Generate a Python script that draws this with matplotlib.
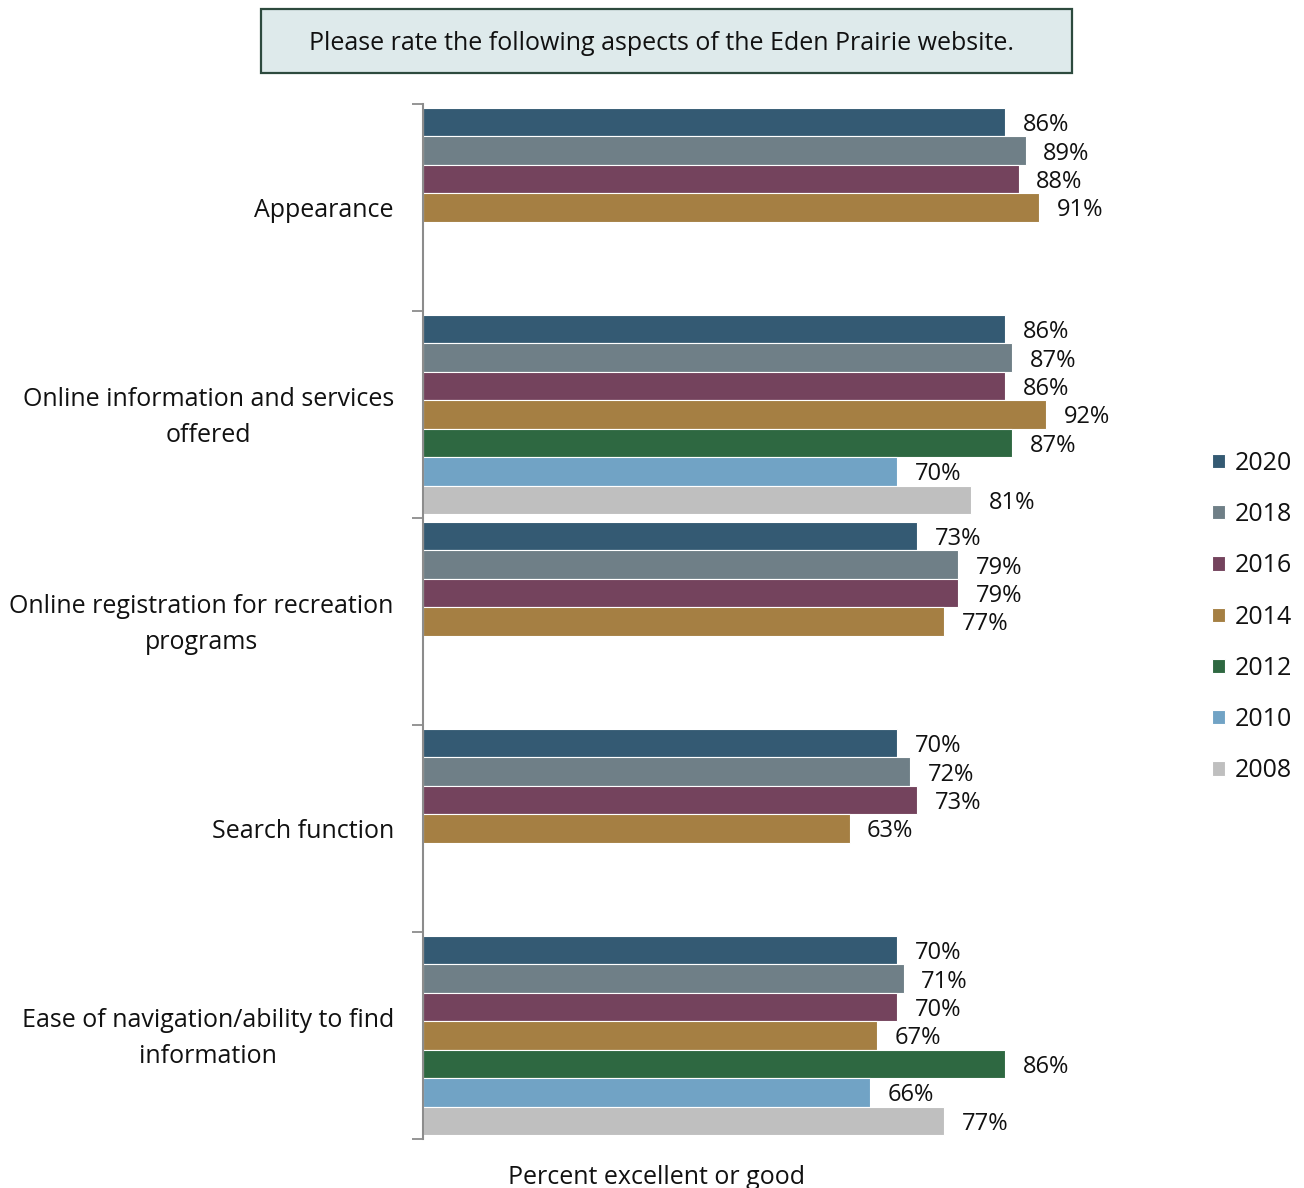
import numpy as np
import matplotlib

matplotlib.use("Agg")

import matplotlib.pyplot as plt
from matplotlib.patches import Rectangle

plt.rcParams["font.family"] = ["Open Sans", "DejaVu Sans"]

CATEGORIES = [
    "Appearance",
    "Online information and services\noffered",
    "Online registration for recreation\nprograms",
    "Search function",
    "Ease of navigation/ability to find\ninformation",
]
YEARS = ["2020", "2018", "2016", "2014", "2012", "2010", "2008"]

nan = np.nan
PCT_2020 = [86, 86, 73, 70, 70]
PCT_2018 = [89, 87, 79, 72, 71]
PCT_2016 = [88, 86, 79, 73, 70]
PCT_2014 = [91, 92, 77, 63, 67]
PCT_2012 = [nan, 87, nan, nan, 86]
PCT_2010 = [nan, 70, nan, nan, 66]
PCT_2008 = [nan, 81, nan, nan, 77]
SERIES = [PCT_2020, PCT_2018, PCT_2016, PCT_2014, PCT_2012, PCT_2010, PCT_2008]

COLORS = ["#345a73", "#6f7f87", "#74435d", "#a57f43", "#2e6841", "#71a3c5", "#bfbfbf"]

TITLE = "Please rate the following aspects of the Eden Prairie website."
XLABEL = "Percent excellent or good"

W, H = 1304, 1188
fig = plt.figure(figsize=(W / 100, H / 100), dpi=100)

# plot area in pixel terms: y axis at x=423, category band from y=104 to y=1139
ax = fig.add_axes([423 / W, (H - 1139) / H, 677 / W, (1139 - 104) / H])

n_cat = len(CATEGORIES)
n_ser = len(SERIES)
gap = 0.28
bar_h = 1.0 / (n_ser + gap)
offset = gap * bar_h / 2

for j, (vals, year, color) in enumerate(zip(SERIES, YEARS, COLORS)):
    vals = np.asarray(vals, dtype=float)
    y = np.arange(n_cat) + offset + (j + 0.5) * bar_h
    ok = ~np.isnan(vals)
    ax.barh(y[ok], vals[ok], height=bar_h, color=color, edgecolor="white",
            linewidth=0.8, label=year)
    for yy, v in zip(y[ok], vals[ok]):
        ax.text(v + 2.6, yy + 0.014, f"{v:.0f}%", va="center", ha="left",
                fontsize=17, color="#111111")

ax.set_xlim(0, 100)
ax.set_ylim(n_cat, 0)

# category labels at block centres (nudged a touch low), tick marks at block boundaries
ax.set_yticks(np.arange(n_cat) + 0.515)
ax.set_yticklabels(CATEGORIES, fontsize=18, color="#111111", va="center",
                   multialignment="center", linespacing=1.58)
ax.tick_params(axis="y", which="major", length=0, pad=21)
ax.set_yticks(np.arange(n_cat + 1), minor=True)
ax.tick_params(axis="y", which="minor", length=8, width=1.3, color="#8c8c8c")
ax.set_xticks([])

for side in ("top", "right", "bottom"):
    ax.spines[side].set_visible(False)
ax.spines["left"].set_color("#8c8c8c")
ax.spines["left"].set_linewidth(1.5)

leg = fig.legend(loc="center left", bbox_to_anchor=(1202 / W, (H - 617) / H),
                 frameon=False, fontsize=18, handlelength=0.5, handleheight=0.5,
                 handletextpad=0.4, labelspacing=1.05, borderaxespad=0)
for t in leg.get_texts():
    t.set_color("#111111")

# question banner
fig.add_artist(Rectangle((261 / W, (H - 73) / H), 811 / W, 64 / H,
                         transform=fig.transFigure, facecolor="#deeaeb",
                         edgecolor="#2d4a3e", linewidth=1.6))
fig.text(662 / W, (H - 44) / H, TITLE, ha="center", va="center",
         fontsize=18, color="#111111")

fig.text(657 / W, (H - 1177) / H, XLABEL, ha="center", va="center",
         fontsize=18, color="#111111")

fig.savefig("out.png", dpi=100, facecolor="white")
